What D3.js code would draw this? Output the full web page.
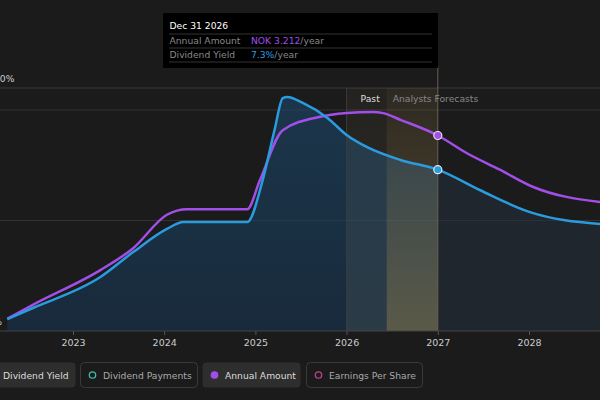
<!DOCTYPE html>
<html>
<head>
<meta charset="utf-8">
<script src="https://cdn.jsdelivr.net/npm/d3@7"></script>
<style>
  html, body { margin: 0; padding: 0; background: #1b1b1b; }
  svg { display: block; font-family: "DejaVu Sans", sans-serif; }
</style>
</head>
<body>
<svg width="600" height="400"></svg>
<script>
// decimal years
const yieldYears = [2022.28, 2022.56, 2023.30, 2023.66, 2024.03, 2024.21, 2024.91, 2025.08, 2025.21, 2025.30, 2025.35, 2025.52, 2025.79, 2026.00, 2026.22, 2026.59, 2027.00, 2027.46, 2028.01, 2028.78];
const yieldValues = [0.54, 1.04, 2.44, 3.57, 4.62, 4.93, 4.93, 6.83, 9.10, 10.54, 10.59, 10.32, 9.64, 8.87, 8.33, 7.74, 7.30, 6.38, 5.38, 4.84];

const amountYears = [2022.28, 2022.56, 2023.30, 2023.66, 2024.03, 2024.25, 2024.91, 2025.05, 2025.30, 2025.71, 2026.00, 2026.29, 2026.40, 2026.59, 2027.00, 2027.32, 2027.68, 2028.04, 2028.78];
const amountValues = [0.20, 0.43, 1.00, 1.36, 1.91, 2.00, 2.00, 2.48, 3.30, 3.52, 3.58, 3.60, 3.58, 3.47, 3.212, 2.92, 2.65, 2.37, 2.12];

const yearTicks = [2023, 2024, 2025, 2026, 2027, 2028];
const yieldTicks = [0, 5, 10];

const pastStart = 2026.0;
const pastEnd = 2026.44;
const forecastStart = 2027.0;

const svg = d3.select('svg');
const width = +svg.attr('width');
const fs = 9.2;

const x = d3.scaleLinear().domain([2023, 2028]).range([73, 529]);
const yYield = d3.scaleLinear().domain([0, 10]).range([331, 110]);
const yAmount = d3.scaleLinear().domain([0, 3.212]).range([331, 135.5]);

const yieldData = yieldYears.map((t, i) => ({ t, v: yieldValues[i] }));
const amountData = amountYears.map((t, i) => ({ t, v: amountValues[i] }));

const defs = svg.append('defs');

const areaGrad = defs.append('linearGradient')
    .attr('id', 'area-grad').attr('x1', 0).attr('x2', 0).attr('y1', 0).attr('y2', 1);
areaGrad.append('stop').attr('offset', '0%').attr('stop-color', '#1b4a70').attr('stop-opacity', 0.55);
areaGrad.append('stop').attr('offset', '100%').attr('stop-color', '#173048').attr('stop-opacity', 0.7);

const bandGrad = defs.append('linearGradient')
    .attr('id', 'band-grad').attr('x1', 0).attr('x2', 0).attr('y1', 0).attr('y2', 1);
bandGrad.append('stop').attr('offset', '0%').attr('stop-color', '#d0a860').attr('stop-opacity', 0.1);
bandGrad.append('stop').attr('offset', '100%').attr('stop-color', '#d0b060').attr('stop-opacity', 0.36);

const pastGrad = defs.append('linearGradient')
    .attr('id', 'past-grad').attr('x1', 0).attr('x2', 0).attr('y1', 0).attr('y2', 1);
pastGrad.append('stop').attr('offset', '0%').attr('stop-color', '#b89868').attr('stop-opacity', 0.06);
pastGrad.append('stop').attr('offset', '100%').attr('stop-color', '#a0a890').attr('stop-opacity', 0.14);

defs.append('clipPath').attr('id', 'clip-past')
    .append('rect').attr('x', 0).attr('y', 0).attr('width', x(forecastStart)).attr('height', 400);
defs.append('clipPath').attr('id', 'clip-future')
    .append('rect').attr('x', x(forecastStart)).attr('y', 0).attr('width', width).attr('height', 400);

// gridlines
svg.append('line').attr('x1', 0).attr('x2', width).attr('y1', 88).attr('y2', 88)
    .attr('stroke', '#3a3a3a').attr('stroke-width', 1);
svg.append('g').selectAll('line')
    .data(yieldTicks.filter(d => d > 0))
    .enter().append('line')
    .attr('x1', 0).attr('x2', width)
    .attr('y1', d => yYield(d)).attr('y2', d => yYield(d))
    .attr('stroke', '#333').attr('stroke-width', 1);

// area under yield
const area = d3.area().x(d => x(d.t)).y0(yYield(0)).y1(d => yYield(d.v)).curve(d3.curveMonotoneX);
svg.append('path').datum(yieldData).attr('d', area)
    .attr('fill', 'url(#area-grad)').attr('clip-path', 'url(#clip-past)');
svg.append('path').datum(yieldData).attr('d', area)
    .attr('fill', '#24303c').attr('fill-opacity', 0.55).attr('clip-path', 'url(#clip-future)');

// past / forecast band
svg.append('rect')
    .attr('x', x(pastStart)).attr('y', 88)
    .attr('width', x(pastEnd) - x(pastStart)).attr('height', yYield(0) - 88)
    .attr('fill', 'url(#past-grad)');
svg.append('rect')
    .attr('x', x(pastEnd)).attr('y', 88)
    .attr('width', x(forecastStart) - x(pastEnd)).attr('height', yYield(0) - 88)
    .attr('fill', 'url(#band-grad)');
svg.append('line')
    .attr('x1', x(pastStart)).attr('x2', x(pastStart)).attr('y1', 88).attr('y2', yYield(0))
    .attr('stroke', '#3c3c3a').attr('stroke-width', 1);
svg.append('line')
    .attr('x1', x(forecastStart)).attr('x2', x(forecastStart)).attr('y1', 66).attr('y2', yYield(0))
    .attr('stroke', '#6a6250').attr('stroke-width', 1);

svg.append('text').attr('x', x(pastStart) + 14).attr('y', 101.5)
    .attr('font-size', fs).attr('fill', '#ddd').text('Past');
svg.append('text').attr('x', x(pastEnd) + 6).attr('y', 101.5)
    .attr('font-size', fs).attr('fill', '#888').text('Analysts Forecasts');

// lines
const line = yScale => d3.line().x(d => x(d.t)).y(d => yScale(d.v)).curve(d3.curveMonotoneX);
svg.append('path').datum(amountData).attr('d', line(yAmount))
    .attr('fill', 'none').attr('stroke', '#a24ee8').attr('stroke-width', 2.5);
svg.append('path').datum(yieldData).attr('d', line(yYield))
    .attr('fill', 'none').attr('stroke', '#2b9be0').attr('stroke-width', 2.5);

// markers at forecast start
const amtAt = amountData.find(d => d.t === forecastStart);
const yldAt = yieldData.find(d => d.t === forecastStart);
svg.append('circle').attr('cx', x(amtAt.t)).attr('cy', yAmount(amtAt.v)).attr('r', 4)
    .attr('fill', '#a24ee8').attr('stroke', '#e8e0f0').attr('stroke-width', 1.2);
svg.append('circle').attr('cx', x(yldAt.t)).attr('cy', yYield(yldAt.v)).attr('r', 4)
    .attr('fill', '#2b9be0').attr('stroke', '#e0ecf5').attr('stroke-width', 1.2);

// x axis
const xAxis = svg.append('g').attr('transform', `translate(0,${yYield(0)})`)
    .call(d3.axisBottom(x).tickValues(yearTicks).tickFormat(d3.format('d')).tickSize(4).tickPadding(4));
xAxis.select('.domain').remove();
svg.append('line').attr('x1', 0).attr('x2', width).attr('y1', yYield(0)).attr('y2', yYield(0))
    .attr('stroke', '#444');
xAxis.selectAll('line').attr('stroke', '#555');
xAxis.selectAll('text').attr('fill', '#ccc').attr('font-size', 9.5).attr('font-family', '"DejaVu Sans", sans-serif');

// y labels (cut off at left edge, as in the original)
svg.append('text').attr('x', -6).attr('y', 81.5).attr('font-size', fs).attr('fill', '#ccc').text('10%');
svg.append('text').attr('x', 2).attr('y', 325).attr('text-anchor', 'end')
    .attr('font-size', fs).attr('fill', '#ccc').text('0%');

// tooltip
const tip = svg.append('g');
tip.append('rect').attr('x', 163).attr('y', 13).attr('width', 275).attr('height', 55).attr('fill', '#000');
tip.append('text').attr('x', 169.5).attr('y', 28.5).attr('font-size', fs).attr('fill', '#fff').text('Dec 31 2026');
[34, 48, 62].forEach(yy => {
    tip.append('line').attr('x1', 169).attr('x2', 432).attr('y1', yy).attr('y2', yy)
        .attr('stroke', '#333').attr('stroke-width', 1);
});
tip.append('text').attr('x', 169.5).attr('y', 43.5).attr('font-size', fs).attr('fill', '#888').text('Annual Amount');
const t1 = tip.append('text').attr('x', 251).attr('y', 43.5).attr('font-size', fs);
t1.append('tspan').attr('fill', '#a24ee8').text('NOK 3.212');
t1.append('tspan').attr('fill', '#888').text('/year');
tip.append('text').attr('x', 169.5).attr('y', 57.5).attr('font-size', fs).attr('fill', '#888').text('Dividend Yield');
const t2 = tip.append('text').attr('x', 251).attr('y', 57.5).attr('font-size', fs);
t2.append('tspan').attr('fill', '#2b9be0').text('7.3%');
t2.append('tspan').attr('fill', '#888').text('/year');

// legend
const legendItems = [
    { label: 'Dividend Yield', x: -20, w: 95, filled: true, color: '#2b9be0', dot: true },
    { label: 'Dividend Payments', x: 80, w: 117, filled: false, color: '#3fb8a8', dot: false },
    { label: 'Annual Amount', x: 202, w: 98, filled: true, color: '#a24ee8', dot: true },
    { label: 'Earnings Per Share', x: 306, w: 116, filled: false, color: '#c0408a', dot: false }
];
const legend = svg.append('g').selectAll('g')
    .data(legendItems)
    .enter().append('g')
    .attr('transform', d => `translate(${d.x},362)`);
legend.append('rect')
    .attr('x', 0.5).attr('y', 0.5).attr('width', d => d.w).attr('height', 25).attr('rx', 4)
    .attr('fill', d => d.filled ? '#2e2e2e' : 'none')
    .attr('stroke', d => d.filled ? 'none' : '#3a3a3a');
legend.append('circle')
    .attr('cx', 12.5).attr('cy', 13).attr('r', 3.2)
    .attr('fill', d => d.dot ? d.color : 'none')
    .attr('stroke', d => d.color).attr('stroke-width', 1.3);
legend.append('text')
    .attr('x', 23).attr('y', 16.5).attr('font-size', fs)
    .attr('fill', d => d.filled ? '#ddd' : '#aaa')
    .text(d => d.label);
</script>
</body>
</html>
